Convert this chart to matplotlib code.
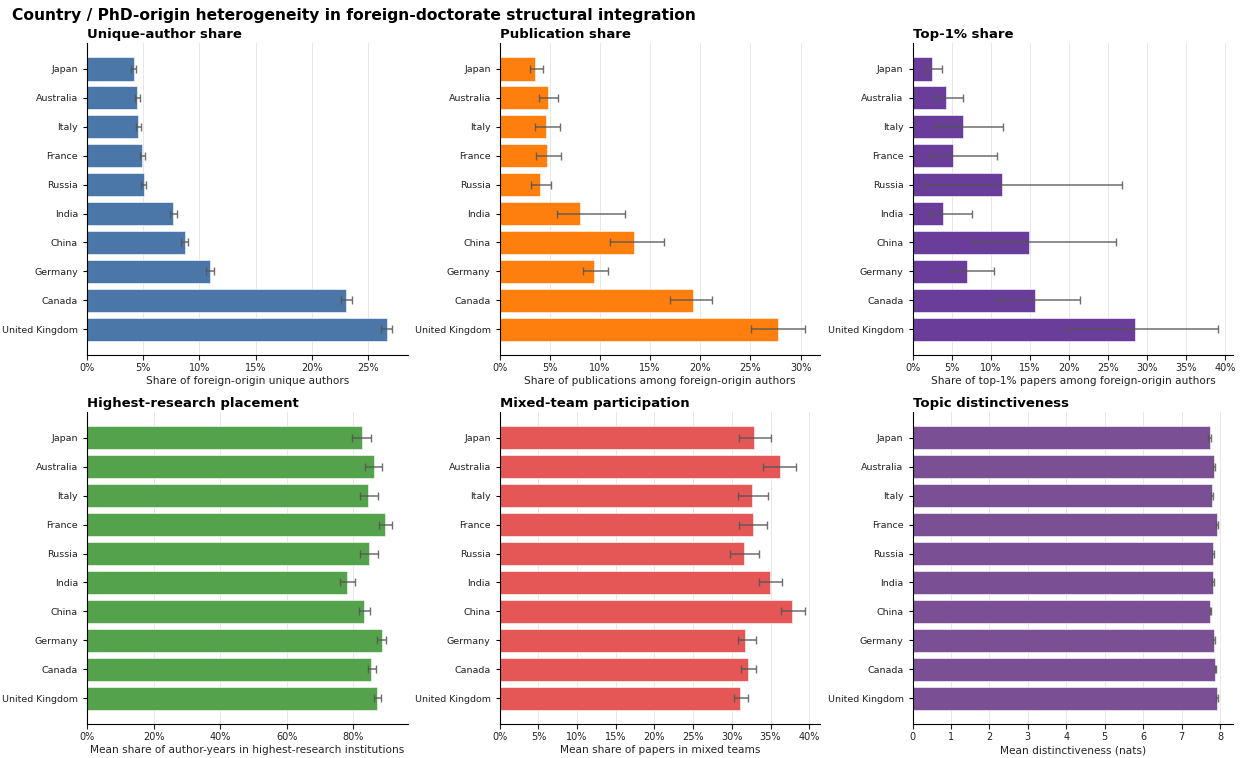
import numpy as np
import matplotlib

matplotlib.use("Agg")
import matplotlib.pyplot as plt
from matplotlib.ticker import PercentFormatter

countries = ["Japan", "Australia", "Italy", "France", "Russia",
             "India", "China", "Germany", "Canada", "United Kingdom"]

# unique-author share (%), symmetric-ish CI
author_share = [4.14, 4.49, 4.55, 4.91, 5.05, 7.69, 8.69, 10.94, 23.05, 26.63]
author_lo = [3.94, 4.27, 4.33, 4.69, 4.82, 7.36, 8.37, 10.56, 22.55, 26.11]
author_hi = [4.34, 4.71, 4.77, 5.13, 5.28, 8.02, 9.01, 11.32, 23.55, 27.15]

# publication share (%)
pub_share = [3.53, 4.79, 4.66, 4.72, 4.02, 8.01, 13.43, 9.38, 19.25, 27.70]
pub_lo = [2.99, 3.89, 3.56, 3.66, 3.16, 5.75, 11.00, 8.28, 16.93, 25.10]
pub_hi = [4.32, 5.85, 6.02, 6.12, 5.15, 12.47, 16.39, 10.81, 21.18, 30.46]

# top-1% share (%)
top_share = [2.43, 4.22, 6.40, 5.16, 11.39, 3.84, 14.88, 6.99, 15.61, 28.49]
top_lo = [1.54, 2.86, 3.03, 2.26, 1.41, 2.05, 7.68, 5.20, 10.75, 19.57]
top_hi = [3.80, 6.40, 11.60, 10.75, 26.82, 7.59, 25.97, 10.36, 21.41, 39.06]

# highest-research placement (%)
place_share = [82.5, 86.2, 84.5, 89.5, 84.7, 78.2, 83.2, 88.5, 85.4, 87.1]
place_lo = [79.7, 83.6, 82.1, 87.6, 82.1, 76.1, 81.6, 87.1, 84.5, 86.3]
place_hi = [85.3, 88.5, 87.3, 91.7, 87.3, 80.4, 85.1, 89.9, 86.7, 88.3]

# mixed-team participation (%)
mixed_share = [32.86, 36.26, 32.65, 32.77, 31.61, 34.92, 37.81, 31.70, 32.13, 31.10]
mixed_lo = [30.88, 34.06, 30.75, 30.88, 29.76, 33.50, 36.30, 30.75, 31.23, 30.32]
mixed_hi = [35.01, 38.32, 34.71, 34.49, 33.55, 36.43, 39.48, 33.12, 33.12, 32.04]

# topic distinctiveness (nats)
dist_mean = [7.73, 7.85, 7.79, 7.92, 7.82, 7.82, 7.75, 7.84, 7.88, 7.92]
dist_lo = [7.70, 7.82, 7.76, 7.89, 7.79, 7.80, 7.73, 7.82, 7.86, 7.90]
dist_hi = [7.76, 7.88, 7.82, 7.95, 7.85, 7.84, 7.77, 7.86, 7.90, 7.94]

panels = [
    ("Unique-author share", author_share, author_lo, author_hi, "#4a76a8",
     "Share of foreign-origin unique authors", True),
    ("Publication share", pub_share, pub_lo, pub_hi, "#ff7f0e",
     "Share of publications among foreign-origin authors", True),
    ("Top-1% share", top_share, top_lo, top_hi, "#6a3d9a",
     "Share of top-1% papers among foreign-origin authors", True),
    ("Highest-research placement", place_share, place_lo, place_hi, "#54a24b",
     "Mean share of author-years in highest-research institutions", True),
    ("Mixed-team participation", mixed_share, mixed_lo, mixed_hi, "#e45756",
     "Mean share of papers in mixed teams", True),
    ("Topic distinctiveness", dist_mean, dist_lo, dist_hi, "#7a4f94",
     "Mean distinctiveness (nats)", False),
]

fig, axes = plt.subplots(2, 3, figsize=(12.42, 7.58), dpi=100)
fig.subplots_adjust(left=0.070, right=0.993, top=0.943, bottom=0.045,
                    wspace=0.287, hspace=0.183)

y = np.arange(len(countries))
for ax, (title, val, lo, hi, col, xlabel, pct) in zip(axes.flat, panels):
    val = np.array(val)
    err = [val - np.array(lo), np.array(hi) - val]
    ax.barh(y, val, color=col, edgecolor="white", linewidth=0.4,
            height=0.8, zorder=2)
    ax.errorbar(val, y, xerr=err, fmt="none", ecolor="#555555", elinewidth=1.1,
                capsize=3, capthick=1, alpha=0.85, zorder=3)
    ax.set_yticks(y)
    ax.set_yticklabels(countries, fontsize=6.8, color="#222222")
    ax.invert_yaxis()
    ax.tick_params(axis="x", labelsize=7, colors="#222222", pad=2.5)
    ax.tick_params(axis="y", length=3)
    ax.set_xlim(0, None)
    if pct:
        ax.xaxis.set_major_formatter(PercentFormatter(decimals=0))
    ax.set_xlabel(xlabel, fontsize=7.6, color="#222222", labelpad=2)
    ax.set_title(title, fontsize=9.5, fontweight="bold", loc="left", pad=4)
    ax.grid(axis="x", color="#e8e8e8", linewidth=0.7, zorder=0)
    ax.set_axisbelow(True)
    ax.spines["top"].set_visible(False)
    ax.spines["right"].set_visible(False)

fig.suptitle("Country / PhD-origin heterogeneity in foreign-doctorate structural integration",
             fontsize=11.15, fontweight="bold", x=0.010, y=0.990, ha="left")

fig.savefig("out.png", dpi=100)
